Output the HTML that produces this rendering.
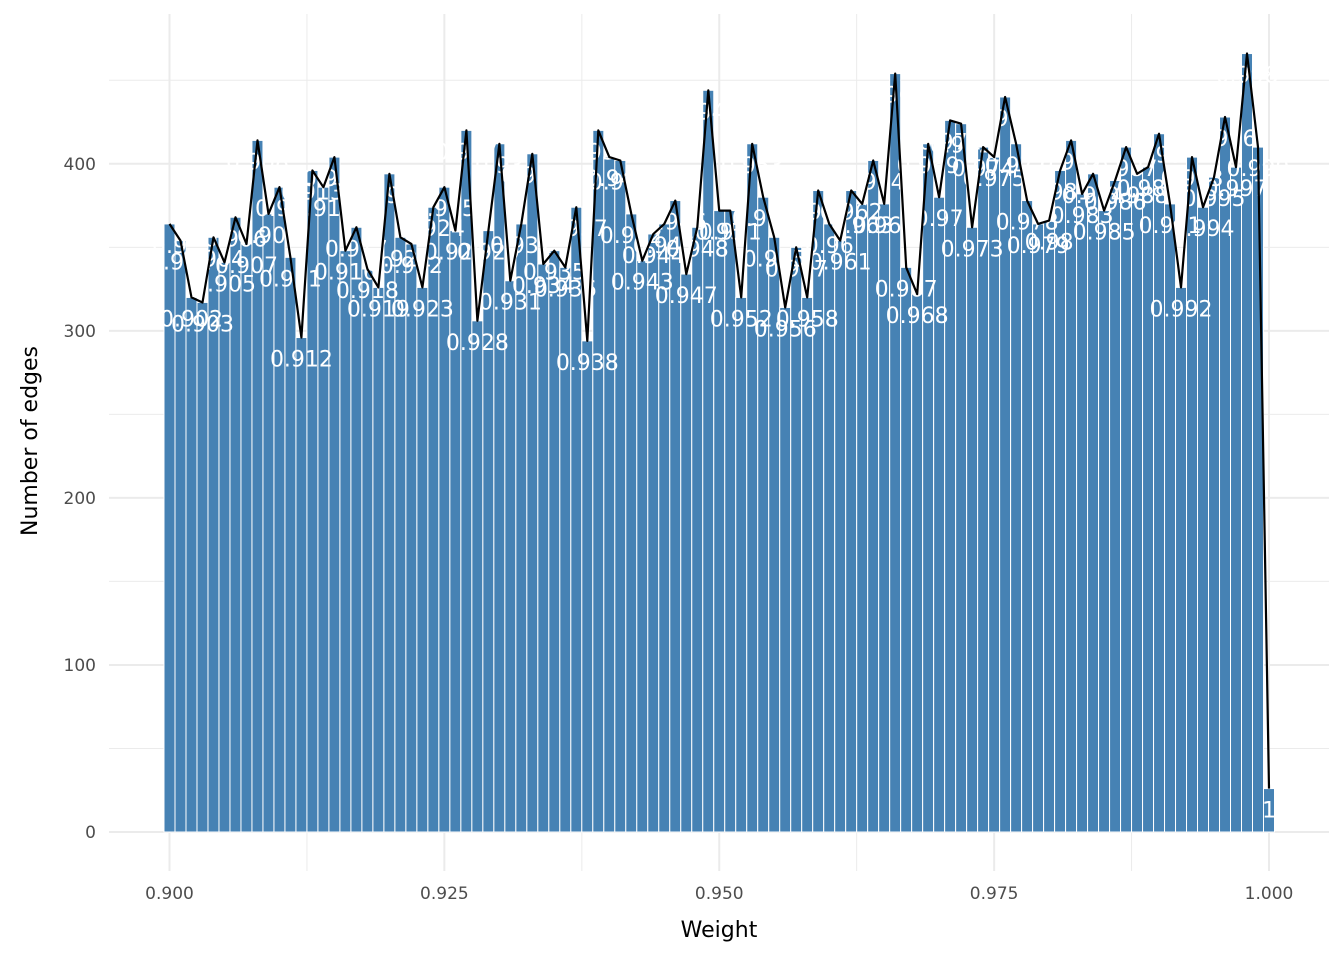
<!DOCTYPE html>
<html><head><meta charset="utf-8"><style>
body{margin:0;background:#fff}
svg{display:block;font-family:"DejaVu Sans","Liberation Sans",sans-serif}
</style></head><body>
<svg id="chart" width="1344" height="960">
<g id="grid"></g>
<g id="bars"></g>
<g id="labels"></g>
<path id="line" fill="none" stroke="#000" stroke-width="2.2" stroke-linejoin="round"/>
<g id="axes"></g>
<text x="719" y="937" text-anchor="middle" font-size="22" fill="#000">Weight</text>
<text transform="translate(37,441) rotate(-90)" text-anchor="middle" font-size="22" fill="#000">Number of edges</text>
</svg>
<script>
const weights = [];
for (let i = 0; i <= 100; i++) weights.push(+(0.9 + i * 0.001).toFixed(3));
const counts = [364,354,320,317,356,341,368,352,414,370,386,344,296,396,386,404,348,362,337,326,
394,356,352,326,374,386,360,420,306,360,412,330,364,406,340,348,338,374,294,420,
404,402,370,342,358,364,378,334,362,444,372,372,320,412,380,356,314,350,320,384,
364,354,384,376,402,376,454,338,322,412,380,426,424,362,410,404,440,412,378,364,
366,396,414,382,394,372,390,410,394,398,418,376,326,404,374,392,428,398,466,410,26];
const xTicks = [0.9,0.925,0.95,0.975,1.0];
const xTickLabels = ["0.900","0.925","0.950","0.975","1.000"];
const yTicks = [0,100,200,300,400];

const X = v => 169.5 + (v - 0.9) / 0.1 * 1099.5;
const Y = v => 832 - v * 1.6705;
const NS = "http://www.w3.org/2000/svg";
function mk(tag, attrs, parent){const e=document.createElementNS(NS,tag);for(const k in attrs)e.setAttribute(k,attrs[k]);parent.appendChild(e);return e;}
const grid=document.getElementById('grid'), bars=document.getElementById('bars'), labels=document.getElementById('labels'), axes=document.getElementById('axes');
const L=109, R=1329, T=14, B=871;
// minor grid
for (let i=0;i<yTicks.length;i++){const v=yTicks[i]+50;if(Y(v)>T){const g=mk('line',{x1:L,x2:R,y1:Y(v),y2:Y(v),stroke:'#ebebeb','stroke-width':1},grid);

}}
for (let i=0;i<xTicks.length-1;i++){const v=xTicks[i]+0.0125;const g=mk('line',{x1:X(v),x2:X(v),y1:T,y2:B,stroke:'#ebebeb','stroke-width':1},grid);

}
mk('line',{x1:L,x2:R,y1:Y(-50)<B?Y(-50):B,y2:B,stroke:'none'},grid);
yTicks.forEach(v=>{const g=mk('line',{x1:L,x2:R,y1:Y(v),y2:Y(v),stroke:'#ebebeb','stroke-width':2},grid);


const t=mk('text',{x:96,y:Y(v)+6,'text-anchor':'end','font-size':17,fill:'#4d4d4d'},axes);t.textContent=v;

});
xTicks.forEach((v,i)=>{const g=mk('line',{x1:X(v),x2:X(v),y1:T,y2:B,stroke:'#ebebeb','stroke-width':2},grid);


const t=mk('text',{x:X(v),y:899,'text-anchor':'middle','font-size':17,fill:'#4d4d4d'},axes);t.textContent=xTickLabels[i];

});
let d='';
weights.forEach((w,i)=>{const c=counts[i];const x=X(w);
const r=mk('rect',{x:x-5.5,y:Y(c),width:11,height:Y(0)-Y(c),fill:'#4682b4',stroke:'#fff','stroke-width':1},bars);


d+=(i?'L':'M')+x.toFixed(1)+','+Y(c).toFixed(1);
const t=mk('text',{x:x,y:Y(c)+29,'text-anchor':'middle','font-size':22,fill:'#fff'},labels);t.textContent=String(w);

});
document.getElementById('line').setAttribute('d',d);
</script>
</body></html>
